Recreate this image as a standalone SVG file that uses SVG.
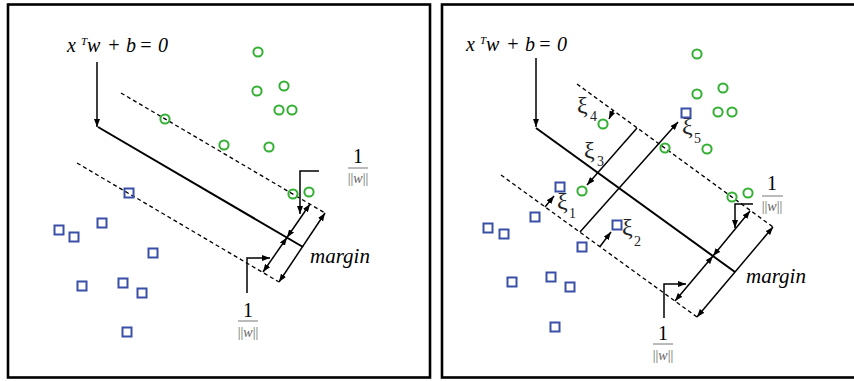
<svg xmlns="http://www.w3.org/2000/svg" width="854" height="381" viewBox="0 0 854 381">
  <style>
    .frame { fill: #fff; stroke: #000; stroke-width: 2.6; }
    .hyper { stroke: #000; stroke-width: 2; fill: none; }
    .bound { stroke: #000; stroke-width: 1.3; stroke-dasharray: 4 3; fill: none; }
    .arr { stroke: #000; stroke-width: 1.5; fill: none; }
    .both { marker-start: url(#ah); marker-end: url(#ah); }
    .end { marker-end: url(#ah); }
    .pos { fill: none; stroke: #33b033; stroke-width: 2; }
    .neg { fill: none; stroke: #3a4fa8; stroke-width: 2; }
    .eq { font-family: "Liberation Serif", "Times New Roman", serif; font-style: italic; font-size: 20px; fill: #000; }
    .sup { font-size: 11px; }
    .mg { font-family: "Liberation Serif", "Times New Roman", serif; font-style: italic; font-size: 21px; fill: #000; }
    .one { font-family: "Liberation Serif", "Times New Roman", serif; font-size: 20px; fill: #000; text-anchor: middle; }
    .nw { font-family: "Liberation Serif", "Times New Roman", serif; font-size: 14px; fill: #666; text-anchor: middle; }
    .nw tspan.w { font-style: italic; }
    .bar { stroke: #777; stroke-width: 1; }
    .xi { font-family: "Liberation Serif", "Times New Roman", serif; font-size: 24px; fill: #222; }
    .xs { font-size: 14px; }
  </style>
  <defs>
    <marker id="ah" viewBox="0 0 8 6" refX="8" refY="3" markerWidth="8" markerHeight="6" markerUnits="userSpaceOnUse" orient="auto-start-reverse">
      <path d="M0,0 L8,3 L0,6 z" fill="#000"/>
    </marker>
    <circle id="c" r="4.6" class="pos"/>
    <rect id="s" x="-4.5" y="-4.5" width="9" height="9" class="neg"/>
  </defs>

  <!-- separable case -->
  <g id="panel-hard">
    <rect class="frame" x="8" y="4.5" width="422" height="373"/>

    <g id="eq-hard">
      <text class="eq" y="52"><tspan x="67">x</tspan><tspan class="sup" x="81" y="45">T</tspan><tspan x="87" y="52">w</tspan><tspan x="107">+</tspan><tspan x="126">b</tspan><tspan x="139">=</tspan><tspan x="158">0</tspan></text>
    </g>

    <g id="connectors-hard">
      <line class="arr end" x1="97" y1="62" x2="97" y2="127"/>
      <line class="hyper" x1="98" y1="127" x2="303" y2="247"/>
      <line class="bound" x1="121" y1="93" x2="325" y2="213"/>
      <line class="bound" x1="77" y1="163" x2="279" y2="282"/>
      <line class="arr both" x1="279" y1="282" x2="325" y2="213"/>
      <line class="arr both" x1="287" y1="237.5" x2="310" y2="204"/>
      <line class="arr both" x1="287" y1="237.5" x2="263" y2="272"/>
      <polyline class="arr end" points="319,171 300,171 300,214"/>
      <polyline class="arr end" points="247,293 247,258 270,258"/>
    </g>

    <g id="label-margin-hard"><text class="mg" x="310" y="263">margin</text></g>
    <g id="frac-hard-upper">
      <text class="one" x="358" y="163">1</text>
      <line class="bar" x1="348" y1="168" x2="368" y2="168"/>
      <text class="nw" x="358" y="183">||<tspan class="w">w</tspan>||</text>
    </g>
    <g id="frac-hard-lower">
      <text class="one" x="248" y="317">1</text>
      <line class="bar" x1="238" y1="321" x2="258" y2="321"/>
      <text class="nw" x="248" y="337">||<tspan class="w">w</tspan>||</text>
    </g>

    <g id="pos-hard">
      <use href="#c" x="258" y="52"/>
      <use href="#c" x="257" y="91"/>
      <use href="#c" x="284" y="86"/>
      <use href="#c" x="279" y="110"/>
      <use href="#c" x="292" y="110"/>
      <use href="#c" x="165" y="119"/>
      <use href="#c" x="224" y="145"/>
      <use href="#c" x="269" y="147"/>
      <use href="#c" x="293" y="194"/>
      <use href="#c" x="309" y="192"/>
    </g>
    <g id="neg-hard">
      <use href="#s" x="129" y="193"/>
      <use href="#s" x="102" y="223"/>
      <use href="#s" x="59" y="230"/>
      <use href="#s" x="74" y="237"/>
      <use href="#s" x="153" y="253"/>
      <use href="#s" x="82" y="286"/>
      <use href="#s" x="123" y="283"/>
      <use href="#s" x="142" y="293"/>
      <use href="#s" x="127" y="332"/>
    </g>
  </g>

  <!-- soft-margin case with slack variables -->
  <g id="panel-soft">
    <rect class="frame" x="442" y="4.5" width="420" height="373"/>

    <g id="eq-soft">
      <text class="eq" y="51"><tspan x="466">x</tspan><tspan class="sup" x="480" y="44">T</tspan><tspan x="486" y="51">w</tspan><tspan x="506">+</tspan><tspan x="525">b</tspan><tspan x="538">=</tspan><tspan x="557">0</tspan></text>
    </g>

    <g id="connectors-soft">
      <line class="arr end" x1="536" y1="58" x2="536" y2="127"/>
      <line class="hyper" x1="536" y1="128" x2="735" y2="272"/>
      <line class="bound" x1="577" y1="84" x2="773" y2="227"/>
      <line class="bound" x1="501" y1="175" x2="697" y2="317"/>
      <line class="arr both" x1="697" y1="317" x2="773" y2="227"/>
      <line class="arr both" x1="713" y1="256" x2="750" y2="211"/>
      <line class="arr both" x1="713" y1="256" x2="675" y2="301"/>
      <polyline class="arr end" points="753,204 735,204 735,228"/>
      <polyline class="arr end" points="664,318 664,284 686,284"/>
      <!-- slack arrows -->
      <line class="arr end" x1="580" y1="232" x2="678" y2="122"/>
      <line class="arr end" x1="637" y1="128" x2="587" y2="185"/>
      <line class="arr end" x1="613" y1="110.5" x2="609" y2="119"/>
      <line class="arr end" x1="545" y1="207" x2="554" y2="196"/>
      <line class="arr end" x1="600" y1="246.5" x2="611" y2="232"/>
    </g>

    <g id="slack-labels">
      <text class="xi" x="577" y="113">ξ<tspan class="xs" x="590" y="121">4</tspan></text>
      <text class="xi" x="584" y="158">ξ<tspan class="xs" x="597" y="166">3</tspan></text>
      <text class="xi" x="682" y="134">ξ<tspan class="xs" x="694" y="143">5</tspan></text>
      <text class="xi" x="557" y="209">ξ<tspan class="xs" x="569" y="218">1</tspan></text>
      <text class="xi" x="622" y="235">ξ<tspan class="xs" x="634" y="246">2</tspan></text>
    </g>

    <g id="label-margin-soft"><text class="mg" x="746" y="283">margin</text></g>
    <g id="frac-soft-upper">
      <text class="one" x="772" y="190">1</text>
      <line class="bar" x1="762" y1="196" x2="783" y2="196"/>
      <text class="nw" x="772" y="211">||<tspan class="w">w</tspan>||</text>
    </g>
    <g id="frac-soft-lower">
      <text class="one" x="663" y="340">1</text>
      <line class="bar" x1="653" y1="344" x2="673" y2="344"/>
      <text class="nw" x="663" y="360">||<tspan class="w">w</tspan>||</text>
    </g>

    <g id="pos-soft">
      <use href="#c" x="697" y="54"/>
      <use href="#c" x="697" y="94"/>
      <use href="#c" x="723" y="88"/>
      <use href="#c" x="718" y="112"/>
      <use href="#c" x="732" y="112"/>
      <use href="#c" x="603" y="124"/>
      <use href="#c" x="665" y="148"/>
      <use href="#c" x="707" y="149"/>
      <use href="#c" x="582" y="191"/>
      <use href="#c" x="732" y="197"/>
      <use href="#c" x="748" y="193"/>
    </g>
    <g id="neg-soft">
      <use href="#s" x="686" y="113"/>
      <use href="#s" x="560" y="187"/>
      <use href="#s" x="535" y="217"/>
      <use href="#s" x="488" y="228"/>
      <use href="#s" x="504" y="234"/>
      <use href="#s" x="617" y="225"/>
      <use href="#s" x="582" y="247"/>
      <use href="#s" x="512" y="282"/>
      <use href="#s" x="551" y="277"/>
      <use href="#s" x="570" y="287"/>
      <use href="#s" x="555" y="327"/>
    </g>
  </g>
</svg>
